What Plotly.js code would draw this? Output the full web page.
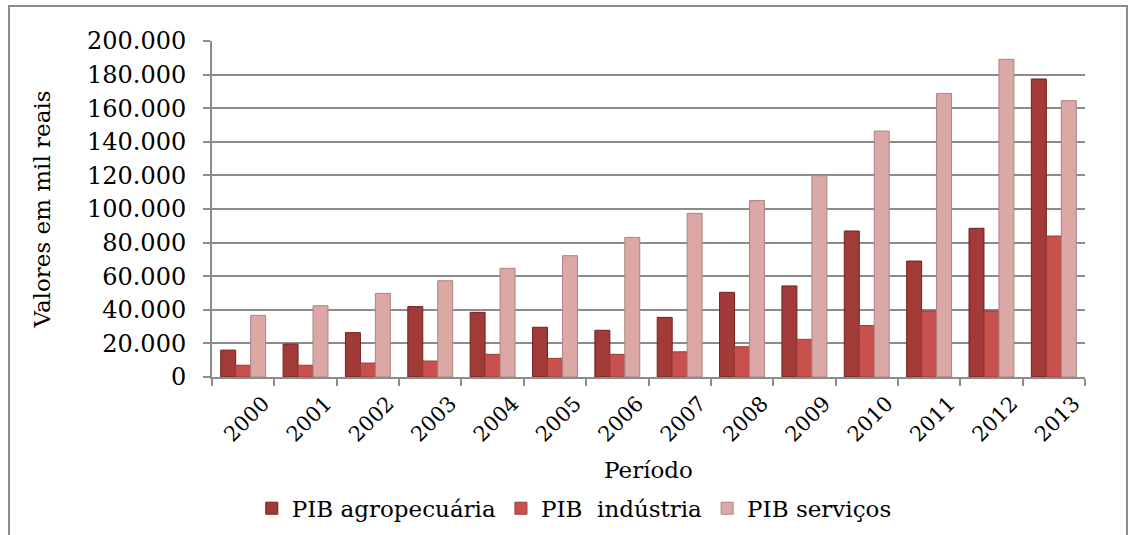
<!DOCTYPE html>
<html>
<head>
<meta charset="utf-8">
<script src="https://cdn.plot.ly/plotly-3.0.1.min.js"></script>
<style>
  html, body { margin: 0; padding: 0; background: #fff; }
  #wrap { position: relative; width: 1138px; height: 535px; overflow: hidden; }
  #frame { position: absolute; left: 8px; top: 5px; width: 1120px; height: 560px; border: 2px solid #8c8c8c; box-sizing: border-box; pointer-events: none; }
  #chart { position: absolute; left: 0; top: 0; width: 1138px; height: 535px; }
</style>
</head>
<body>
<div id="wrap">
  <div id="chart"></div>
  <div id="frame"></div>
</div>
<script>
const years = ["2000","2001","2002","2003","2004","2005","2006","2007","2008","2009","2010","2011","2012","2013"];
const agro = [16000, 19600, 26400, 41900, 38500, 29600, 27800, 35500, 50400, 54200, 86900, 69000, 88500, 177400];
const industria = [7000, 7000, 8300, 9500, 13500, 11100, 13500, 15000, 18000, 22400, 30600, 39300, 39300, 83900];
const servicos = [36700, 42400, 49800, 57300, 64700, 72200, 83100, 97400, 105000, 119800, 146400, 168800, 189100, 164500];
const seriesNames = ["PIB agropecuária", "PIB\u00a0 indústria", "PIB serviços"];
const yTicks = [0, 20000, 40000, 60000, 80000, 100000, 120000, 140000, 160000, 180000, 200000];

const font = "DejaVu Serif, Liberation Serif, serif";
const colors = ["#a23a37", "#c9514d", "#dba8a6"];
const edge = ["#6e2120", "#9a3a37", "#a88482"];
const data = [agro, industria, servicos].map((vals, i) => ({
  type: "bar",
  x: years,
  y: vals,
  name: seriesNames[i],
  marker: { color: colors[i], line: { color: edge[i], width: 1 } },
  hoverinfo: "x+y+name"
}));

const layout = {
  width: 1138, height: 535,
  margin: { l: 212, r: 53, t: 41, b: 158 },
  paper_bgcolor: "#ffffff",
  plot_bgcolor: "#ffffff",
  separators: ",.",
  barmode: "group",
  bargap: 0.28,
  bargroupgap: 0,
  font: { family: font, color: "#000", size: 20 },
  xaxis: {
    type: "category",
    automargin: false,
    tickangle: -45,
    tickson: "boundaries",
    ticks: "outside", ticklen: 7, tickcolor: "#8c8c8c", tickwidth: 2,
    showline: true, linecolor: "#8c8c8c", linewidth: 2,
    showgrid: false,
    tickfont: { family: font, size: 21, color: "#000" },
    ticklabelstandoff: 4,
    ticklabelshift: 20,
    title: { text: "Período", font: { family: font, size: 23, color: "#000" }, standoff: 16 }
  },
  yaxis: {
    range: [0, 200000],
    automargin: false,
    tickvals: yTicks,
    tickformat: ",d",
    ticks: "outside", ticklen: 7, tickcolor: "#8c8c8c", tickwidth: 2,
    showline: true, linecolor: "#8c8c8c", linewidth: 2,
    showgrid: true, gridcolor: "#8c8c8c", gridwidth: 2,
    zeroline: false,
    tickfont: { family: font, size: 24, color: "#000" },
    ticklabelstandoff: 12,
    title: { text: "Valores em mil reais", font: { family: font, size: 23, color: "#000" }, standoff: 30 }
  },
  showlegend: true,
  legend: {
    orientation: "h",
    xref: "paper", x: 0.415, xanchor: "center",
    yref: "container", y: 0.05, yanchor: "middle",
    font: { family: font, size: 23, color: "#000" },
    itemwidth: 30,
    traceorder: "normal"
  }
};

Plotly.newPlot("chart", data, layout, { displayModeBar: false, staticPlot: true });
</script>
</body>
</html>
